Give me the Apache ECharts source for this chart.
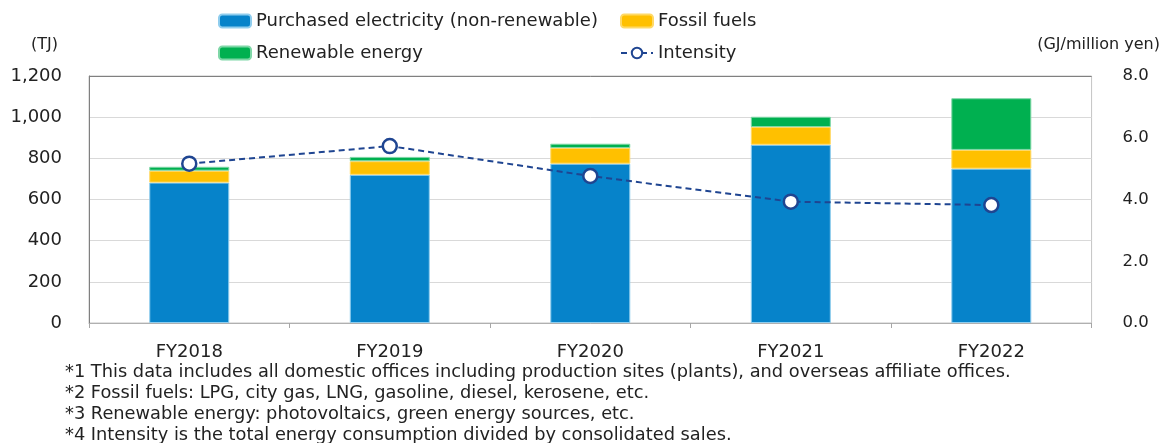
<!DOCTYPE html>
<html>
<head>
<meta charset="utf-8">
<script src="https://cdn.jsdelivr.net/npm/echarts@6/dist/echarts.min.js"></script>
<style>
html,body{margin:0;padding:0;background:#fff;}
#chart{width:1163px;height:443px;}
</style>
</head>
<body>
<div id="chart"></div>
<script>
const categories = ['FY2018', 'FY2019', 'FY2020', 'FY2021', 'FY2022'];
const purchasedElectricity = [682, 720, 774, 866, 750];
const fossilFuels = [58, 66, 76, 86, 91];
const renewableEnergy = [19, 21, 21, 50, 251];
const intensity = [5.16, 5.73, 4.76, 3.93, 3.82];
const leftTicks = { min: 0, max: 1200, interval: 200 };
const rightTicks = { min: 0, max: 8, interval: 2 };
const footnotes = [
  '*1 This data includes all domestic offices including production sites (plants), and overseas affiliate offices.',
  '*2 Fossil fuels: LPG, city gas, LNG, gasoline, diesel, kerosene, etc.',
  '*3 Renewable energy: photovoltaics, green energy sources, etc.',
  '*4 Intensity is the total energy consumption divided by consolidated sales.'
];

const FONT = 'DejaVu Sans';
const TXT = '#222';
const chart = echarts.init(document.getElementById('chart'));
chart.setOption({
  animation: false,
  textStyle: { fontFamily: FONT, color: TXT },
  grid: { left: 89, right: 71, top: 76, bottom: 120, show: true, borderColor: '#c4c4c4', borderWidth: 1, backgroundColor: 'transparent' },
  legend: [
    {
      data: ['Purchased electricity (non-renewable)', 'Renewable energy'],
      orient: 'vertical', left: 213, top: 7, itemWidth: 32, itemHeight: 13, itemGap: 14,
      textStyle: { fontFamily: FONT, fontSize: 18, color: TXT }
    },
    {
      data: ['Fossil fuels', 'Intensity'],
      orient: 'vertical', left: 615, top: 7, itemWidth: 32, itemHeight: 13, itemGap: 14,
      textStyle: { fontFamily: FONT, fontSize: 18, color: TXT }
    }
  ],
  xAxis: {
    type: 'category', data: categories,
    axisLine: { lineStyle: { color: '#b0b0b0' } },
    axisTick: { show: true, length: 5, lineStyle: { color: '#a6a6a6' } },
    axisLabel: { fontFamily: FONT, fontSize: 18, color: TXT, margin: 20 }
  },
  yAxis: [
    {
      type: 'value', min: leftTicks.min, max: leftTicks.max, interval: leftTicks.interval,
      name: '(TJ)', nameLocation: 'end', nameGap: 23,
      nameTextStyle: { fontFamily: FONT, fontSize: 16, color: TXT, align: 'right', padding: [0, 31, 0, 0] },
      axisLine: { show: true, lineStyle: { color: '#808080' } },
      axisTick: { show: false },
      splitLine: { lineStyle: { color: ['#d9d9d9', '#d9d9d9', '#d9d9d9', '#d9d9d9', '#d9d9d9', '#d9d9d9', '#808080'] } },
      axisLabel: { fontFamily: FONT, fontSize: 18, color: TXT, margin: 27,
        formatter: v => v.toLocaleString('en-US') }
    },
    {
      type: 'value', min: rightTicks.min, max: rightTicks.max, interval: rightTicks.interval,
      name: '(GJ/million yen)', nameLocation: 'end', nameGap: 23,
      nameTextStyle: { fontFamily: FONT, fontSize: 16, color: TXT, align: 'center', padding: [0, 0, 0, 14] },
      axisLine: { show: false }, axisTick: { show: false }, splitLine: { show: false },
      axisLabel: { fontFamily: FONT, fontSize: 16.5, color: TXT, margin: 31,
        formatter: v => v.toFixed(1) }
    }
  ],
  series: [
    { name: 'Purchased electricity (non-renewable)', type: 'bar', stack: 'e', data: purchasedElectricity,
      barWidth: 80, itemStyle: { color: '#0683CA', borderColor: '#8fcdee', borderWidth: 1 } },
    { name: 'Fossil fuels', type: 'bar', stack: 'e', data: fossilFuels,
      itemStyle: { color: '#FFC000', borderColor: '#ffd966', borderWidth: 1 } },
    { name: 'Renewable energy', type: 'bar', stack: 'e', data: renewableEnergy,
      itemStyle: { color: '#00B050', borderColor: '#7fd7a7', borderWidth: 1 } },
    { name: 'Intensity', type: 'line', yAxisIndex: 1, data: intensity, z: 5,
      symbol: 'circle', symbolSize: 14,
      lineStyle: { color: '#1F4591', width: 2, type: [6, 4] },
      itemStyle: { color: '#fff', borderColor: '#1F4591', borderWidth: 2.5 } }
  ],
  graphic: [
    { type: 'text', left: 65, top: 362,
      style: { text: footnotes.join('\n'), font: '17.8px "' + FONT + '"', fill: TXT, lineHeight: 21 } }
  ]
});
</script>
</body>
</html>
